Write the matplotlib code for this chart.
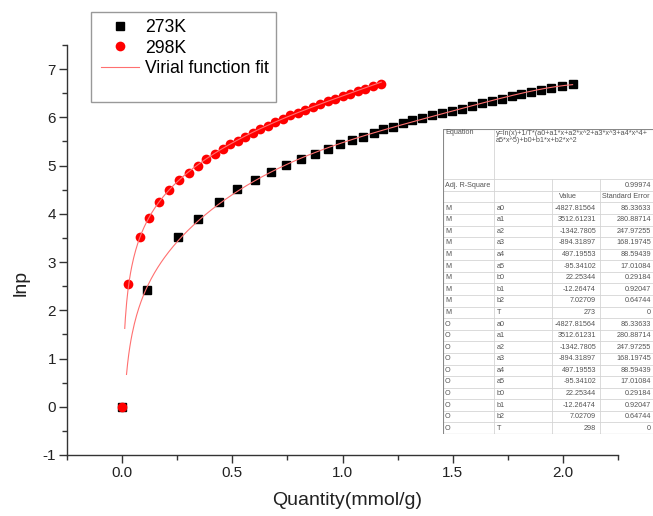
import numpy as np
import matplotlib
matplotlib.use('Agg')
import matplotlib.pyplot as plt
from matplotlib.patches import Rectangle
from matplotlib.lines import Line2D

plt.rcParams['font.family'] = ['Liberation Sans', 'DejaVu Sans']
plt.rcParams['axes.unicode_minus'] = False

# ---- data ----
q_273 = [0.0, 0.115, 0.253, 0.344, 0.441, 0.523, 0.603, 0.676, 0.744, 0.812,
         0.874, 0.933, 0.990, 1.041, 1.092, 1.141, 1.186, 1.229, 1.274, 1.317,
         1.362, 1.407, 1.452, 1.497, 1.542, 1.587, 1.632, 1.677, 1.722, 1.767,
         1.812, 1.857, 1.902, 1.947, 1.995, 2.044]
lnp_273 = [0.0, 2.43, 3.51, 3.89, 4.25, 4.51, 4.70, 4.87, 5.01, 5.13,
           5.24, 5.35, 5.44, 5.53, 5.60, 5.67, 5.75, 5.81, 5.88, 5.94,
           5.99, 6.04, 6.08, 6.13, 6.18, 6.24, 6.29, 6.34, 6.39, 6.44,
           6.49, 6.53, 6.57, 6.61, 6.66, 6.70]

q_298 = [0.0, 0.027, 0.079, 0.120, 0.168, 0.214, 0.259, 0.305, 0.344, 0.382,
         0.420, 0.456, 0.491, 0.525, 0.559, 0.593, 0.627, 0.661, 0.695, 0.729,
         0.763, 0.797, 0.831, 0.865, 0.899, 0.933, 0.967, 1.001, 1.035, 1.069,
         1.103, 1.137, 1.176]
lnp_298 = [0.0, 2.55, 3.52, 3.91, 4.24, 4.49, 4.70, 4.85, 5.00, 5.13,
           5.24, 5.34, 5.44, 5.52, 5.60, 5.68, 5.76, 5.83, 5.90, 5.97,
           6.04, 6.10, 6.16, 6.22, 6.28, 6.33, 6.39, 6.44, 6.49, 6.54,
           6.59, 6.64, 6.70]

# fit parameters (from the Origin table)
param_names = ['a0', 'a1', 'a2', 'a3', 'a4', 'a5', 'b0', 'b1', 'b2', 'T']
values_M = ['-4827.81564', '3512.61231', '-1342.7805', '-894.31897', '497.19553',
            '-95.34102', '22.25344', '-12.26474', '7.02709', '273']
values_O = ['-4827.81564', '3512.61231', '-1342.7805', '-894.31897', '497.19553',
            '-95.34102', '22.25344', '-12.26474', '7.02709', '298']
std_err = ['86.33633', '280.88714', '247.97255', '168.19745', '88.59439',
           '17.01084', '0.29184', '0.92047', '0.64744', '0']
adj_r2 = '0.99974'
equation = 'y=ln(x)+1/T*(a0+a1*x+a2*x^2+a3*x^3+a4*x^4+\na5*x^5)+b0+b1*x+b2*x^2'

fit_range_M = (0.02, 2.044)
fit_range_O = (0.012, 1.176)


def virial(n, vals):
    p = [float(v) for v in vals]
    a, b, T = p[:6], p[6:9], p[9]
    return (np.log(n) + sum(a[i] * n ** i for i in range(6)) / T
            + sum(b[i] * n ** i for i in range(3)))


fig = plt.figure(figsize=(6.53, 5.16), dpi=100)
ax = fig.add_axes([67 / 653, 61 / 516, 551 / 653, 410 / 516])

fit_col = '#ff7070'
ax.plot(q_273, lnp_273, 's', color='black', ms=6.3, mec='black', zorder=2)
ax.plot(q_298, lnp_298, 'o', color='red', ms=7, mec='red', mew=0, zorder=2)
nM = np.linspace(*fit_range_M, 400)
nO = np.linspace(*fit_range_O, 400)
ax.plot(nM, virial(nM, values_M), '-', color=fit_col, lw=0.8, zorder=3)
ax.plot(nO, virial(nO, values_O), '-', color=fit_col, lw=0.8, zorder=3)

ax.set_xlim(-0.25, 2.25)
ax.set_ylim(-1, 7.5)
ax.set_xticks([0.0, 0.5, 1.0, 1.5, 2.0])
ax.set_xticklabels(['0.0', '0.5', '1.0', '1.5', '2.0'])
ax.set_xticks(np.arange(-0.25, 2.3, 0.5), minor=True)
ax.set_yticks(range(-1, 8))
ax.set_yticks(np.arange(-0.5, 7.6, 1.0), minor=True)
for s in ['top', 'right']:
    ax.spines[s].set_visible(False)
for s in ['left', 'bottom']:
    ax.spines[s].set_linewidth(1.0)
    ax.spines[s].set_color('#333333')
ax.tick_params(which='major', length=6, width=1.0, color='#333333',
               labelsize=11, labelcolor='#222222', pad=2)
ax.tick_params(which='minor', length=3.5, width=1.0, color='#333333')
ax.set_xlabel('Quantity(mmol/g)', fontsize=14, color='#222222')
ax.set_ylabel('lnp', fontsize=14, color='#222222')
ax.xaxis.set_label_coords(0.508, -0.09)
ax.yaxis.set_label_coords(-0.067, 0.42)

# legend (Origin style box)
fig.patches.append(Rectangle((91 / 653, 1 - 102 / 516), 185 / 653, 90 / 516,
                             transform=fig.transFigure, fill=True, fc='white',
                             ec='#999999', lw=1.0, zorder=5))
handles = [Line2D([], [], ls='', marker='s', color='black', ms=6.3),
           Line2D([], [], ls='', marker='o', color='red', ms=7, mew=0),
           Line2D([], [], color=fit_col, lw=0.8)]
leg = fig.legend(handles, ['273K', '298K', 'Virial function fit'],
                 loc='upper left', bbox_to_anchor=(101 / 653, 1 - 19 / 516),
                 frameon=False, fontsize=12.7, borderpad=0, borderaxespad=0,
                 handlelength=2.16, handletextpad=0.35, labelspacing=0.2)
leg.set_zorder(6)

# fit results table
tL, tR, tT, tB = 443, 653, 129, 434
cols = [443, 494, 552, 600, 653]
eq_bottom = 179.3
row_h = (tB - eq_bottom) / 22
tax = fig.add_axes([tL / 653, 1 - tB / 516, (tR - tL) / 653, (tB - tT) / 516])
tax.set_xlim(tL, tR)
tax.set_ylim(tB, tT)
tax.axis('off')
tax.add_patch(Rectangle((tL, tT), tR - tL, tB - tT, fc='white', ec='none'))
grid = '#d4d4d4'
fs = 5.2
txt = dict(fontsize=fs, color='#555555', va='center')
for i in range(23):
    y = eq_bottom + i * row_h
    tax.plot([tL, tR], [y, y], color=grid, lw=0.6)
tax.plot([cols[1], cols[1]], [tT, tB], color=grid, lw=0.6)
for c in cols[2:4]:
    tax.plot([c, c], [eq_bottom, tB], color=grid, lw=0.6)
tax.plot([tL, tL, tR], [tB, tT, tT], color='#888888', lw=0.8)
tax.plot([tL, tR], [tB, tB], color='#888888', lw=0.8)

tax.text(cols[0] + 2, tT + 4, 'Equation', **txt)
tax.text(cols[1] + 2, tT + 0.8, equation, fontsize=fs, color='#555555',
         va='top', linespacing=1.1)
yc = eq_bottom + row_h * 0.5
tax.text(cols[0] + 2, yc, 'Adj. R-Square', **txt)
tax.text(cols[4] - 2, yc, adj_r2, ha='right', **txt)
yc += row_h
tax.text(cols[2] + 7, yc, 'Value', **txt)
tax.text(cols[3] + 1.5, yc, 'Standard Error', **txt)
for grp, vals in [('M', values_M), ('O', values_O)]:
    for k in range(len(param_names)):
        yc += row_h
        tax.text(cols[0] + 2, yc, grp, **txt)
        tax.text(cols[1] + 3, yc, param_names[k], **txt)
        tax.text(cols[3] - 4, yc, vals[k], ha='right', **txt)
        tax.text(cols[4] - 2, yc, std_err[k], ha='right', **txt)

fig.savefig('out.png', dpi=100)
